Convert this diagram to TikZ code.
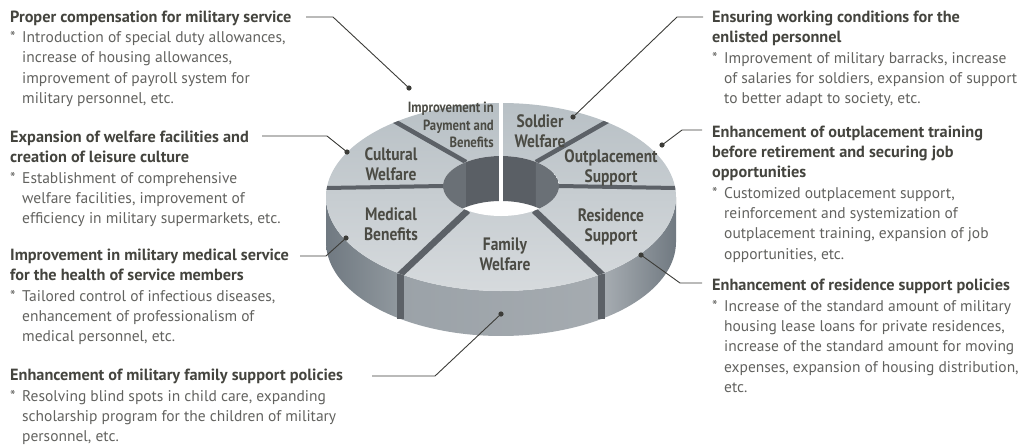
\documentclass[tikz,border=0pt]{standalone}
\usepackage{fontspec}
\setmainfont{PT Sans}
\newfontfamily\labfont{PT Sans}[FakeStretch=0.86]
\newfontfamily\headfont{PT Sans}[FakeStretch=1.005]
\usetikzlibrary{calc}
\definecolor{headc}{RGB}{68,68,62}
\definecolor{bodyc}{RGB}{98,98,95}
\definecolor{labc}{RGB}{75,75,68}
\definecolor{linec}{RGB}{60,60,56}
\definecolor{sepc}{RGB}{92,97,103}
\definecolor{wallA}{RGB}{106,112,118}
\definecolor{wallB}{RGB}{90,95,101}
\definecolor{topA}{RGB}{184,192,197}
\definecolor{topB}{RGB}{214,218,221}
\definecolor{medL}{RGB}{112,121,129}
\definecolor{medR}{RGB}{145,153,159}
\definecolor{famL}{RGB}{155,162,168}
\definecolor{famM}{RGB}{195,199,202}
\definecolor{famR}{RGB}{165,171,176}
\definecolor{resL}{RGB}{168,174,179}
\definecolor{resR}{RGB}{112,121,129}
\newcommand\blk[1]{\vtop{\baselineskip=20.4pt\lineskiplimit=-30pt\lineskip=0pt #1}}
\newcommand\bl[1]{\hbox{\makebox[12pt][l]{*}#1}}
\newcommand\bi[1]{\hbox{\hspace*{12pt}#1}}
\newcommand\hl[1]{\hbox{#1}}
\tikzset{
  headtxt/.style={anchor=base west, inner sep=0pt, text=headc, font=\headfont\fontsize{16.2}{20.4}\selectfont\bfseries},
  bodytxt/.style={anchor=base west, inner sep=0pt, text=bodyc, font=\fontsize{15.5}{20.4}\selectfont},
  ringlab/.style={text=labc, inner sep=0pt, align=center, font=\labfont\bfseries\fontsize{18}{20}\selectfont},
  connline/.style={draw=linec, line width=0.9pt},
  dotmark/.style={fill=linec},
  sepline/.style={draw=sepc, line cap=butt},
}
\begin{document}
\begin{tikzpicture}[x=1pt,y=-1pt]
\useasboundingbox (0,0) rectangle (1036,445);
% ring points
\foreach \t in {55,125,233,307}{
  \coordinate (o\t) at ({501+175*cos(\t)},{197+94*sin(\t)});
  \coordinate (i\t) at ({501+58*cos(\t)},{186+30*sin(\t)});
}
\coordinate (oL) at ({501+175*cos(185.5)},{197+94*sin(185.5)});
\coordinate (oR) at ({501+175*cos(354.5)},{197+94*sin(354.5)});
\coordinate (iL) at (443,186);
\coordinate (iR) at (559,186);
% side faces
\shade[left color=medL, right color=medR] plot[domain=180:125,samples=30] ({501+175*cos(\x)},{197+94*sin(\x)}) -- plot[domain=125:180,samples=30] ({501+175*cos(\x)},{242+94*sin(\x)}) -- cycle;
\shade[left color=famL, middle color=famM, right color=famR] plot[domain=125:55,samples=40] ({501+175*cos(\x)},{197+94*sin(\x)}) -- plot[domain=55:125,samples=40] ({501+175*cos(\x)},{242+94*sin(\x)}) -- cycle;
\shade[left color=resL, right color=resR] plot[domain=55:0,samples=30] ({501+175*cos(\x)},{197+94*sin(\x)}) -- plot[domain=0:55,samples=30] ({501+175*cos(\x)},{242+94*sin(\x)}) -- cycle;
\draw[sepline, line width=7] (o125) -- ++(0,45);
\draw[sepline, line width=7] (o55) -- ++(0,45);
% top face
\shade[top color=topA, bottom color=topB] (501,197) ellipse[x radius=175, y radius=94];
\begin{scope}
  \clip (501,197) ellipse[x radius=175, y radius=94];
  \draw[sepline, line width=4.5] (i233) -- ($(i233)!1.3!(o233)$);
  \draw[sepline, line width=4.5] (i307) -- ($(i307)!1.3!(o307)$);
  \draw[sepline, line width=4] (iL) -- ($(iL)!1.3!(oL)$);
  \draw[sepline, line width=4] (iR) -- ($(iR)!1.3!(oR)$);
  \draw[sepline, line width=6.5] (i125) -- ($(i125)!1.3!(o125)$);
  \draw[sepline, line width=6.5] (i55) -- ($(i55)!1.3!(o55)$);
\end{scope}
% hole
\fill[white] (501,186) ellipse[x radius=58, y radius=30];
\begin{scope}
  \clip (501,186) ellipse[x radius=58, y radius=30];
  \fill[wallA] plot[domain=180:233,samples=20] ({501+58*cos(\x)},{186+30*sin(\x)}) -- plot[domain=233:180,samples=20] ({501+58*cos(\x)},{231+30*sin(\x)}) -- cycle;
  \fill[wallB] plot[domain=233:307,samples=30] ({501+58*cos(\x)},{186+30*sin(\x)}) -- plot[domain=307:233,samples=30] ({501+58*cos(\x)},{231+30*sin(\x)}) -- cycle;
  \fill[wallA] plot[domain=307:360,samples=20] ({501+58*cos(\x)},{186+30*sin(\x)}) -- plot[domain=360:307,samples=20] ({501+58*cos(\x)},{231+30*sin(\x)}) -- cycle;
\end{scope}
\draw[white, line width=4.5] (501,98) -- (501,205);
% ring labels
\node[ringlab] (lsol) at (540,131) {Soldier\\Welfare};
\node[ringlab] (lout) at (611,168) {Outplacement\\Support};
\node[ringlab] (lres) at (611,227) {Residence\\Support};
\node[ringlab] (lfam) at (505,254) {Family\\Welfare};
\node[ringlab] (lmed) at (391,224) {Medical\\Benefits};
\node[ringlab] (lcul) at (391,164) {Cultural\\Welfare};
\node[ringlab, align=right, anchor=east, font=\labfont\bfseries\fontsize{14.8}{17.5}\selectfont] (limp) at (494,125) {Improvement in\\Payment and\\Benefits};
% left texts
\node[headtxt] (h1) at (10,22) {\blk{\hl{Proper compensation for military service}}};
\node[bodytxt] (b1) at (10,42.5) {\blk{\bl{Introduction of special duty allowances,}\bi{increase of housing allowances,}\bi{improvement of payroll system for}\bi{military personnel, etc.}}};
\node[headtxt] (h2) at (10,142) {\blk{\hl{Expansion of welfare facilities and}\hl{creation of leisure culture}}};
\node[bodytxt] (b2) at (10,183) {\blk{\bl{Establishment of comprehensive}\bi{welfare facilities, improvement of}\bi{efficiency in military supermarkets, etc.}}};
\node[headtxt] (h3) at (10,260) {\blk{\hl{Improvement in military medical service}\hl{for the health of service members}}};
\node[bodytxt] (b3) at (10,301) {\blk{\bl{Tailored control of infectious diseases,}\bi{enhancement of professionalism of}\bi{medical personnel, etc.}}};
\node[headtxt] (h4) at (10,380) {\blk{\hl{Enhancement of military family support policies}}};
\node[bodytxt] (b4) at (10,401) {\blk{\bl{Resolving blind spots in child care, expanding}\bi{scholarship program for the children of military}\bi{personnel, etc.}}};
% right texts
\node[headtxt] (h5) at (712,22) {\blk{\hl{Ensuring working conditions for the}\hl{enlisted personnel}}};
\node[bodytxt] (b5) at (712,63) {\blk{\bl{Improvement of military barracks, increase}\bi{of salaries for soldiers, expansion of support}\bi{to better adapt to society, etc.}}};
\node[headtxt] (h6) at (712,137) {\blk{\hl{Enhancement of outplacement training}\hl{before retirement and securing job}\hl{opportunities}}};
\node[bodytxt] (b6) at (712,198) {\blk{\bl{Customized outplacement support,}\bi{reinforcement and systemization of}\bi{outplacement training, expansion of job}\bi{opportunities, etc.}}};
\node[headtxt] (h7) at (712,290) {\blk{\hl{Enhancement of residence support policies}}};
\node[bodytxt] (b7) at (712,311) {\blk{\bl{Increase of the standard amount of military}\bi{housing lease loans for private residences,}\bi{increase of the standard amount for moving}\bi{expenses, expansion of housing distribution,}\bi{etc.}}};
% connectors
\coordinate (s1) at (306,17);  \coordinate (k1) at (333,17);  \coordinate (d1) at (409,88);
\coordinate (s2) at (262,136); \coordinate (k2) at (327,136); \coordinate (d2) at (347,152);
\coordinate (s3) at (300,256); \coordinate (k3) at (326,256); \coordinate (d3) at (346,238);
\coordinate (s4) at (372,376); \coordinate (k4) at (435,376); \coordinate (d4) at (501,314);
\coordinate (s5) at (703,17);  \coordinate (k5) at (677,17);  \coordinate (d5) at (573,117);
\coordinate (s6) at (702,130); \coordinate (k6) at (682,130); \coordinate (d6) at (662,145);
\coordinate (s7) at (702,283); \coordinate (k7) at (680,283); \coordinate (d7) at (641,255);
\foreach \n in {1,...,7}{
  \draw[connline] (s\n) -- (k\n) -- (d\n);
  \fill[dotmark] (d\n) circle[radius=2.6];
}
\end{tikzpicture}
\end{document}
